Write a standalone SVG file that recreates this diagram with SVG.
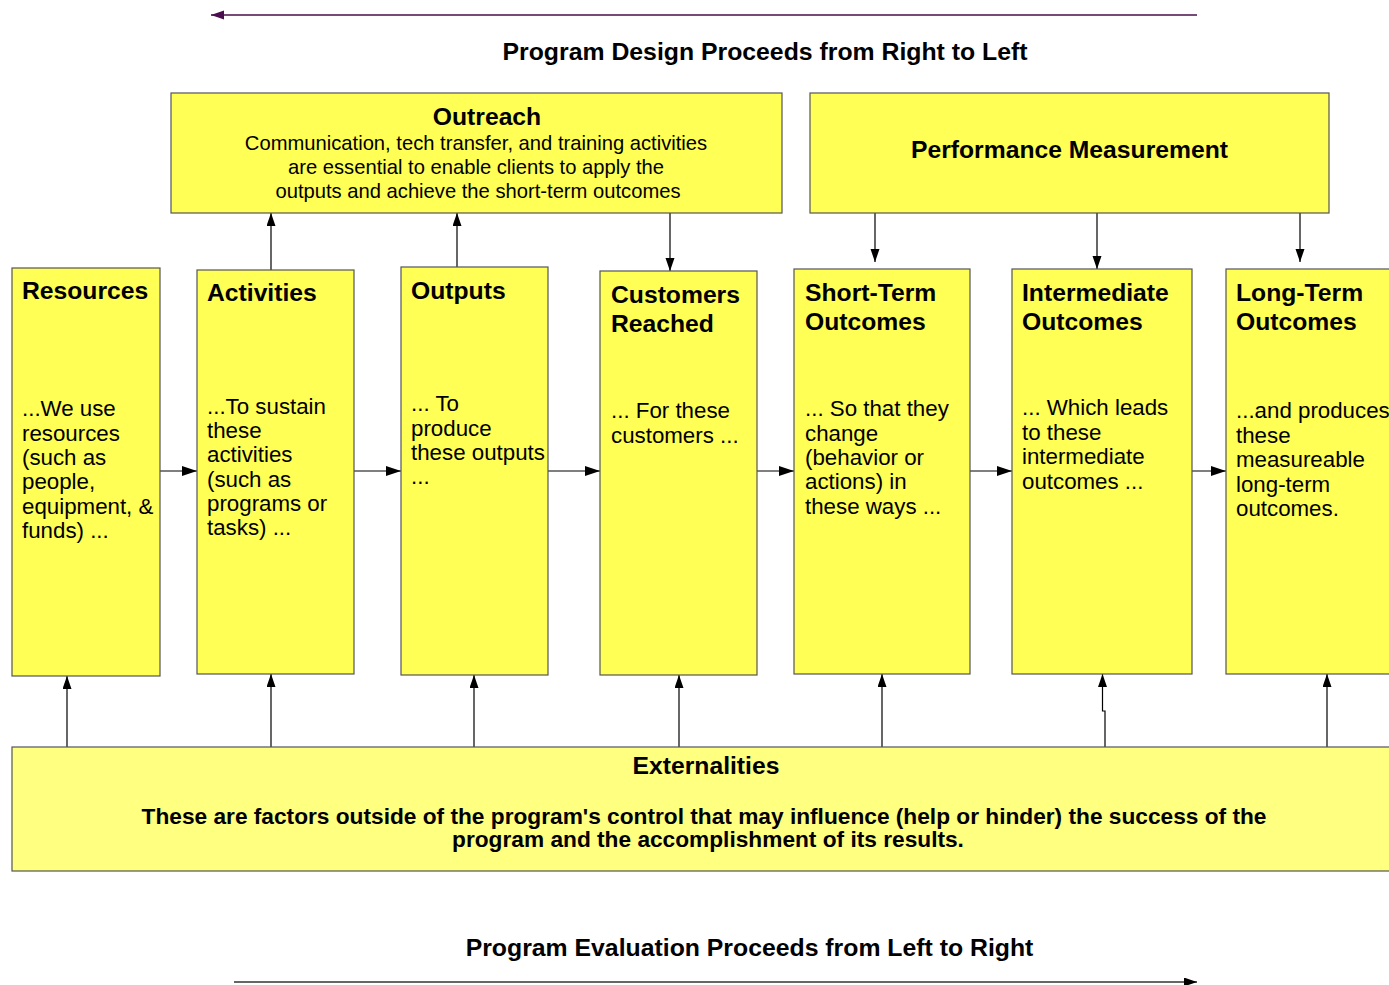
<svg xmlns="http://www.w3.org/2000/svg" width="1389" height="985" viewBox="0 0 1389 985">
  <defs>
    <marker id="ah" markerUnits="userSpaceOnUse" markerWidth="16" markerHeight="12" refX="15" refY="5" orient="auto">
      <path d="M0,0 L15,5 L0,10 Z" fill="#000"/>
    </marker>
    <marker id="ahv" markerUnits="userSpaceOnUse" markerWidth="14" markerHeight="10" refX="13" refY="4.5" orient="auto">
      <path d="M0,0 L13,4.5 L0,9 Z" fill="#000"/>
    </marker>
    <marker id="ahp" markerUnits="userSpaceOnUse" markerWidth="14" markerHeight="10" refX="13" refY="4.5" orient="auto">
      <path d="M0,0 L13,4.5 L0,9 Z" fill="#4a0e4e"/>
    </marker>
    <marker id="ahg" markerUnits="userSpaceOnUse" markerWidth="14" markerHeight="10" refX="13" refY="4.5" orient="auto">
      <path d="M0,0 L13,4.5 L0,9 Z" fill="#000"/>
    </marker>
  </defs>
  <style>
    text { font-family: "Liberation Sans", Arial, sans-serif; fill: #000; }
    .box { fill: #ffff55; stroke: #555; stroke-width: 1.2; }
    .ext { fill: #ffff80; stroke: #555; stroke-width: 1.2; }
    .hd { font-size: 24.7px; font-weight: bold; }
    .title { font-size: 24.8px; font-weight: bold; text-anchor: middle; }
    .body { font-size: 22.3px; }
    .obody { font-size: 20.2px; text-anchor: middle; }
    .ebody { font-size: 22.7px; font-weight: bold; text-anchor: middle; }
    .c { text-anchor: middle; }
    .ln { fill: none; stroke: #000; stroke-width: 1.2; }
  </style>

  <rect width="1389" height="985" fill="#fff"/>

  <!-- direction banners -->
  <g id="design-direction">
    <line x1="1197" y1="15" x2="211" y2="15" stroke="#4a0e4e" stroke-width="1.5" marker-end="url(#ahp)"/>
    <text class="title" x="765" y="60">Program Design Proceeds from Right to Left</text>
  </g>
  <g id="evaluation-direction">
    <text class="title" x="749.5" y="956">Program Evaluation Proceeds from Left to Right</text>
    <line x1="234" y1="982" x2="1197" y2="982" stroke="#333" stroke-width="1.5" marker-end="url(#ahg)"/>
  </g>

  <!-- connectors -->
  <g id="connectors">
    <!-- chain, left to right -->
    <line class="ln" x1="160" y1="471" x2="197" y2="471" marker-end="url(#ah)"/>
    <line class="ln" x1="354" y1="471" x2="401" y2="471" marker-end="url(#ah)"/>
    <line class="ln" x1="548" y1="471" x2="600" y2="471" marker-end="url(#ah)"/>
    <line class="ln" x1="757" y1="471" x2="794" y2="471" marker-end="url(#ah)"/>
    <line class="ln" x1="970" y1="471" x2="1012" y2="471" marker-end="url(#ah)"/>
    <line class="ln" x1="1192" y1="471" x2="1226" y2="471" marker-end="url(#ah)"/>
    <!-- into / out of Outreach -->
    <line class="ln" x1="271" y1="270" x2="271" y2="213" marker-end="url(#ahv)"/>
    <line class="ln" x1="457" y1="267" x2="457" y2="213" marker-end="url(#ahv)"/>
    <line class="ln" x1="670" y1="213" x2="670" y2="271" marker-end="url(#ahv)"/>
    <!-- from Performance Measurement -->
    <line class="ln" x1="875" y1="213" x2="875" y2="262" marker-end="url(#ahv)"/>
    <line class="ln" x1="1097" y1="213" x2="1097" y2="269" marker-end="url(#ahv)"/>
    <line class="ln" x1="1300" y1="213" x2="1300" y2="262" marker-end="url(#ahv)"/>
    <!-- from Externalities -->
    <line class="ln" x1="67" y1="747" x2="67" y2="676" marker-end="url(#ahv)"/>
    <line class="ln" x1="271" y1="747" x2="271" y2="674" marker-end="url(#ahv)"/>
    <line class="ln" x1="474" y1="747" x2="474" y2="675" marker-end="url(#ahv)"/>
    <line class="ln" x1="679" y1="747" x2="679" y2="675" marker-end="url(#ahv)"/>
    <line class="ln" x1="882" y1="747" x2="882" y2="674" marker-end="url(#ahv)"/>
    <path class="ln" d="M1105,747 V711 H1102.5 V674" marker-end="url(#ahv)"/>
    <line class="ln" x1="1327" y1="747" x2="1327" y2="674" marker-end="url(#ahv)"/>
  </g>

  <g id="outreach">
    <rect class="box" x="171" y="93" width="611" height="120"/>
    <text class="hd c" x="487" y="125">Outreach</text>
    <text class="obody" x="476" y="150">Communication, tech transfer, and training activities</text>
    <text class="obody" x="476" y="174">are essential to enable clients to apply the</text>
    <text class="obody" x="478" y="198">outputs and achieve the short-term outcomes</text>
  </g>

  <g id="performance-measurement">
    <rect class="box" x="810" y="93" width="519" height="120"/>
    <text class="hd c" x="1069.5" y="158">Performance Measurement</text>
  </g>

  <g id="resources">
    <rect class="box" x="12" y="268" width="148" height="408"/>
    <text class="hd" x="22" y="299">Resources</text>
    <text class="body" x="22" y="416">...We use</text>
    <text class="body" x="22" y="440.5">resources</text>
    <text class="body" x="22" y="465">(such as</text>
    <text class="body" x="22" y="489">people,</text>
    <text class="body" x="22" y="514">equipment, &amp;</text>
    <text class="body" x="22" y="538">funds) ...</text>
  </g>

  <g id="activities">
    <rect class="box" x="197" y="270" width="157" height="404"/>
    <text class="hd" x="207" y="301">Activities</text>
    <text class="body" x="207" y="413.5">...To sustain</text>
    <text class="body" x="207" y="438">these</text>
    <text class="body" x="207" y="462">activities</text>
    <text class="body" x="207" y="486.5">(such as</text>
    <text class="body" x="207" y="511">programs or</text>
    <text class="body" x="207" y="535">tasks) ...</text>
  </g>

  <g id="outputs">
    <rect class="box" x="401" y="267" width="147" height="408"/>
    <text class="hd" x="411" y="299">Outputs</text>
    <text class="body" x="411" y="411">... To</text>
    <text class="body" x="411" y="436">produce</text>
    <text class="body" x="411" y="460">these outputs</text>
    <text class="body" x="411" y="484">...</text>
  </g>

  <g id="customers-reached">
    <rect class="box" x="600" y="271" width="157" height="404"/>
    <text class="hd" x="611" y="303">Customers</text>
    <text class="hd" x="611" y="331.5">Reached</text>
    <text class="body" x="611" y="418">... For these</text>
    <text class="body" x="611" y="443">customers ...</text>
  </g>

  <g id="short-term-outcomes">
    <rect class="box" x="794" y="269" width="176" height="405"/>
    <text class="hd" x="805" y="301">Short-Term</text>
    <text class="hd" x="805" y="330">Outcomes</text>
    <text class="body" x="805" y="416">... So that they</text>
    <text class="body" x="805" y="440.5">change</text>
    <text class="body" x="805" y="465">(behavior or</text>
    <text class="body" x="805" y="489">actions) in</text>
    <text class="body" x="805" y="514">these ways ...</text>
  </g>

  <g id="intermediate-outcomes">
    <rect class="box" x="1012" y="269" width="180" height="405"/>
    <text class="hd" x="1022" y="301">Intermediate</text>
    <text class="hd" x="1022" y="330">Outcomes</text>
    <text class="body" x="1022" y="415">... Which leads</text>
    <text class="body" x="1022" y="439.5">to these</text>
    <text class="body" x="1022" y="464">intermediate</text>
    <text class="body" x="1022" y="488.5">outcomes ...</text>
  </g>

  <g id="long-term-outcomes">
    <rect class="box" x="1226" y="269" width="180" height="405"/>
    <text class="hd" x="1236" y="301">Long-Term</text>
    <text class="hd" x="1236" y="330">Outcomes</text>
    <text class="body" x="1236" y="418">...and produces</text>
    <text class="body" x="1236" y="443">these</text>
    <text class="body" x="1236" y="467">measureable</text>
    <text class="body" x="1236" y="492">long-term</text>
    <text class="body" x="1236" y="516">outcomes.</text>
  </g>

  <g id="externalities">
    <rect class="ext" x="12" y="747" width="1400" height="124"/>
    <text class="hd c" x="706" y="774">Externalities</text>
    <text class="ebody" x="704" y="824">These are factors outside of the program's control that may influence (help or hinder) the success of the</text>
    <text class="ebody" x="708" y="847">program and the accomplishment of its results.</text>
  </g>
</svg>
